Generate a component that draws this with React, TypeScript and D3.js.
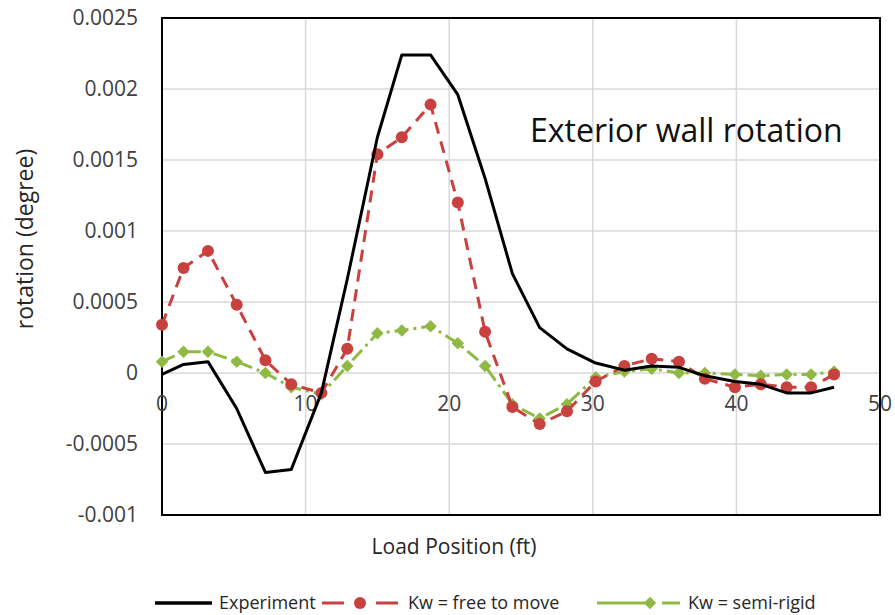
import React, { useEffect, useRef } from "react";
import * as d3 from "d3";

// load positions (ft)
const positions = [0, 1.5, 3.2, 5.2, 7.2, 9.0, 11.1, 12.9, 15.0, 16.7, 18.7, 20.6, 22.5, 24.4, 26.3, 28.2, 30.2, 32.2, 34.1, 36.0, 37.8, 39.9, 41.7, 43.5, 45.2, 46.8];

const experiment = [-0.00001, 0.00006, 0.00008, -0.00025, -0.0007, -0.00068, -0.00014, 0.00066, 0.00166, 0.00224, 0.00224, 0.00196, 0.00137, 0.0007, 0.00032, 0.00017, 0.00007, 0.00002, 0.00005, 0.00004, -0.00002, -0.00006, -0.00008, -0.00014, -0.00014, -0.0001];

const freeToMove = [0.00034, 0.00074, 0.00086, 0.00048, 0.00009, -0.00008, -0.00014, 0.00017, 0.00154, 0.00166, 0.00189, 0.0012, 0.00029, -0.00024, -0.00036, -0.00027, -0.00006, 0.00005, 0.0001, 0.00008, -0.00004, -0.0001, -0.00008, -0.0001, -0.0001, -0.00001];

const semiRigid = [0.00008, 0.00015, 0.00015, 0.00008, 0.0, -0.0001, -0.00015, 0.00005, 0.00028, 0.0003, 0.00033, 0.00021, 0.00005, -0.00022, -0.00032, -0.00022, -0.00003, 0.00001, 0.00003, 0.0, 0.0, -0.00001, -0.00002, -0.00001, -0.00001, 0.00001];

const yTicks = [0.0025, 0.002, 0.0015, 0.001, 0.0005, 0, -0.0005, -0.001];
const xTicks = [0, 10, 20, 30, 40, 50];

const FONT = "'Open Sans', 'Noto Sans', sans-serif";
const RED = "#c9413f";
const GREEN = "#8fb943";

export default function App() {
  const ref = useRef<SVGSVGElement>(null);

  useEffect(() => {
    const svg = d3.select(ref.current);
    svg.selectAll("*").remove();

    const x = d3.scaleLinear().domain([0, 50]).range([162, 880]);
    const y = d3.scaleLinear().domain([-0.001, 0.0025]).range([515, 18]);

    svg.append("rect").attr("width", 895).attr("height", 615).attr("fill", "#fff");

    // gridlines
    svg.append("g")
      .selectAll("line")
      .data(yTicks)
      .enter().append("line")
      .attr("x1", x(0)).attr("x2", x(50))
      .attr("y1", d => y(d)).attr("y2", d => y(d))
      .attr("stroke", "#d9d9d9").attr("stroke-width", 1.5);

    svg.append("g")
      .selectAll("line")
      .data(xTicks)
      .enter().append("line")
      .attr("x1", d => x(d)).attr("x2", d => x(d))
      .attr("y1", y(0.0025)).attr("y2", y(-0.001))
      .attr("stroke", "#d9d9d9").attr("stroke-width", 1.5);

    // plot border
    svg.append("rect")
      .attr("x", x(0)).attr("y", y(0.0025))
      .attr("width", x(50) - x(0)).attr("height", y(-0.001) - y(0.0025))
      .attr("fill", "none").attr("stroke", "#000").attr("stroke-width", 2);

    // tick labels
    svg.append("g")
      .selectAll("text")
      .data(yTicks)
      .enter().append("text")
      .attr("x", 138).attr("y", d => y(d))
      .attr("dy", "0.35em")
      .attr("text-anchor", "end")
      .style("font-family", FONT).style("font-size", "21px")
      .attr("fill", "#404040")
      .text(d => String(d));

    svg.append("g")
      .selectAll("text")
      .data(xTicks)
      .enter().append("text")
      .attr("x", d => x(d)).attr("y", y(0) + 31)
      .attr("dy", "0.35em")
      .attr("text-anchor", "middle")
      .style("font-family", FONT).style("font-size", "21px")
      .attr("fill", "#404040")
      .text(d => String(d));

    // axis titles
    svg.append("text")
      .attr("transform", "translate(25,239) rotate(-90)")
      .attr("text-anchor", "middle")
      .attr("dy", "0.35em")
      .style("font-family", FONT).style("font-size", "23px")
      .attr("fill", "#262626")
      .text("rotation (degree)");

    svg.append("text")
      .attr("x", 454).attr("y", 547)
      .attr("text-anchor", "middle")
      .attr("dy", "0.35em")
      .style("font-family", FONT).style("font-size", "21px")
      .attr("fill", "#262626")
      .text("Load Position (ft)");

    svg.append("text")
      .attr("x", 530).attr("y", 131)
      .attr("dy", "0.35em")
      .style("font-family", FONT).style("font-size", "32px")
      .attr("fill", "#111")
      .text("Exterior wall rotation");

    const line = d3.line<number>()
      .x((d, i) => x(positions[i]))
      .y(d => y(d));

    // semi-rigid
    svg.append("path")
      .attr("d", line(semiRigid))
      .attr("fill", "none").attr("stroke", GREEN).attr("stroke-width", 3)
      .attr("stroke-dasharray", "14 5 3 5");
    svg.append("g")
      .selectAll("path")
      .data(semiRigid)
      .enter().append("path")
      .attr("d", d3.symbol(d3.symbolDiamond2, 100)())
      .attr("transform", (d, i) => `translate(${x(positions[i])},${y(d)})`)
      .attr("fill", GREEN);

    // free to move
    svg.append("path")
      .attr("d", line(freeToMove))
      .attr("fill", "none").attr("stroke", RED).attr("stroke-width", 3)
      .attr("stroke-dasharray", "12 8");
    svg.append("g")
      .selectAll("circle")
      .data(freeToMove)
      .enter().append("circle")
      .attr("cx", (d, i) => x(positions[i]))
      .attr("cy", d => y(d))
      .attr("r", 6)
      .attr("fill", RED);

    // experiment
    svg.append("path")
      .attr("d", line(experiment))
      .attr("fill", "none").attr("stroke", "#000").attr("stroke-width", 3)
      .attr("stroke-linejoin", "round");

    // legend
    const ly = 603;
    const leg = svg.append("g")
      .style("font-family", FONT).style("font-size", "18px");

    leg.append("line")
      .attr("x1", 155).attr("x2", 212).attr("y1", ly).attr("y2", ly)
      .attr("stroke", "#000").attr("stroke-width", 3.5);
    leg.append("text").attr("x", 219).attr("y", ly).attr("dy", "0.35em")
      .attr("fill", "#262626").text("Experiment");

    leg.append("line")
      .attr("x1", 322).attr("x2", 344).attr("y1", ly).attr("y2", ly)
      .attr("stroke", RED).attr("stroke-width", 3);
    leg.append("line")
      .attr("x1", 376).attr("x2", 398).attr("y1", ly).attr("y2", ly)
      .attr("stroke", RED).attr("stroke-width", 3);
    leg.append("circle").attr("cx", 360).attr("cy", ly).attr("r", 6).attr("fill", RED);
    leg.append("text").attr("x", 408).attr("y", ly).attr("dy", "0.35em")
      .attr("fill", "#262626").text("Kw = free to move");

    leg.append("line")
      .attr("x1", 597).attr("x2", 645).attr("y1", ly).attr("y2", ly)
      .attr("stroke", GREEN).attr("stroke-width", 3);
    leg.append("line")
      .attr("x1", 662).attr("x2", 680).attr("y1", ly).attr("y2", ly)
      .attr("stroke", GREEN).attr("stroke-width", 3);
    leg.append("path")
      .attr("d", d3.symbol(d3.symbolDiamond2, 100)())
      .attr("transform", `translate(650,${ly})`)
      .attr("fill", GREEN);
    leg.append("text").attr("x", 688).attr("y", ly).attr("dy", "0.35em")
      .attr("fill", "#262626").text("Kw = semi-rigid");
  }, []);

  return (
    <svg
      ref={ref}
      width={895}
      height={615}
      style={{ position: "absolute", left: 0, top: 0, display: "block" }}
    />
  );
}
